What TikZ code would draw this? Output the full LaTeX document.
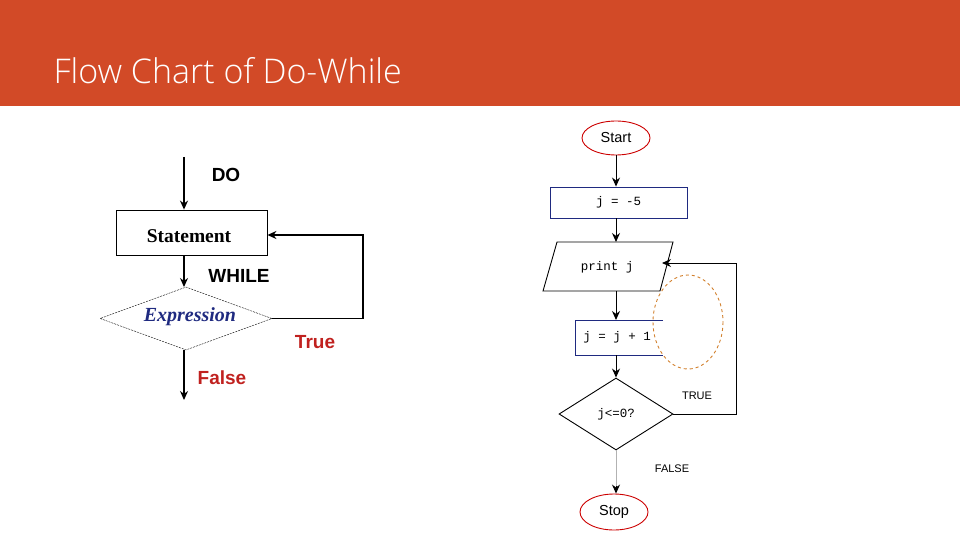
\documentclass[tikz,border=0pt]{standalone}
\usepackage{fontspec}
\setmainfont{Liberation Serif}
\setsansfont{Liberation Sans}
\setmonofont{Liberation Mono}
\newfontfamily\titlefont{Open Sans Light}
\usetikzlibrary{shapes.geometric,arrows.meta}
\definecolor{hdr}{HTML}{D24A27}
\definecolor{navy}{HTML}{1F2A80}
\definecolor{redtxt}{HTML}{C0211F}
\begin{document}
\begin{tikzpicture}[x=1pt,y=-1pt,
  arr/.style={-{Stealth[length=9pt,width=8pt]},line width=1.3pt},
  arrs/.style={-{Stealth[length=9pt,width=8pt]},line width=1pt},
  lbl/.style={font=\sffamily\bfseries\fontsize{19}{19}\selectfont},
  small/.style={font=\sffamily\fontsize{11}{11}\selectfont},
  code/.style={font=\ttfamily\fontsize{12.5}{12.5}\selectfont}]
\useasboundingbox (0,0) rectangle (960,540);
\fill[hdr] (0,0) rectangle (960,106);
\node[anchor=west,text=white,font=\titlefont\fontsize{34}{34}\selectfont] (title) at (50,71) {Flow Chart of Do-While};
% left chart
\coordinate (ltop) at (184,157);
\node[draw,line width=0.8pt,minimum width=151pt,minimum height=45pt] (stmt) at (191.5,232.5) {};
\node (stmtt) at (189,236) {\bfseries\fontsize{19.5}{19.5}\selectfont Statement};
\node[draw,dashed,dash pattern=on 2pt off 1pt,diamond,aspect=2.75,minimum width=172pt,minimum height=63pt,inner sep=0pt] (expr) at (186,318.5) {};
\node[text=navy,font=\bfseries\itshape\fontsize{20}{20}\selectfont] (exprt) at (190,317) {Expression};
\coordinate (lbot) at (184,400);
\coordinate (lr1) at (363,318.5);
\coordinate (lr2) at (363,235);
\draw[arr] (ltop) -- (ltop|-stmt.north);
\draw[arr] (stmt.south-|184,0) -- (184,287);
\draw[arr] (184,350) -- (lbot);
\draw[arr] (expr.east) -- (lr1) -- (lr2) -- (stmt.east|-lr2);
\node[lbl] (do) at (226,175) {DO};
\node[lbl] (wh) at (239,276) {WHILE};
\node[lbl,text=redtxt] (tr) at (315,342) {True};
\node[lbl,text=redtxt] (fa) at (222,378) {False};
% right chart
\node[draw=red!80!black,line width=0.9pt,ellipse,minimum width=68pt,minimum height=34pt,font=\sffamily\fontsize{14.5}{14.5}\selectfont] (start) at (616,138) {Start};
\node[draw=navy,line width=0.9pt,minimum width=137pt,minimum height=31pt,code] (j5) at (618.5,202.5) {j = -5};
\draw[line width=0.9pt] (557,242) -- (673,242) -- (660,291) -- (543,291) -- cycle;
\node[code] (pr) at (607,267) {print j};
\draw[navy,line width=0.9pt] (663,320) -- (575,320) -- (575,355) -- (663,355);
\node[code] (jjt) at (617,337.5) {j = j + 1};
\node[draw,line width=0.9pt,diamond,aspect=1.58,minimum width=114pt,minimum height=72pt,inner sep=0pt,code] (cond) at (616,414) {j<=0?};
\node[draw=red!80!black,line width=0.9pt,ellipse,minimum width=68pt,minimum height=36pt,font=\sffamily\fontsize{14.5}{14.5}\selectfont] (stop) at (614,512) {Stop};
\draw[dashed,draw=brown!70!orange,line width=0.9pt] (688,322) ellipse (35 and 47);
\draw[arrs] (start) -- (start|-j5.north);
\draw[arrs] (j5.south-|616,0) -- (616,242);
\draw[arrs] (616,291) -- (616,320);
\draw[arrs] (616,355) -- (cond.north);
\draw[draw=gray!60,line width=1pt] (cond.south) -- (616,488);
\draw[arrs] (616,486) -- (stop.north-|616,0);
\draw[arrs] (cond.east) -- (736,414) -- (736,263) -- (662,263);
\node[small] (tt) at (697,396) {TRUE};
\node[small] (ff) at (672,469) {FALSE};
\end{tikzpicture}
\end{document}
